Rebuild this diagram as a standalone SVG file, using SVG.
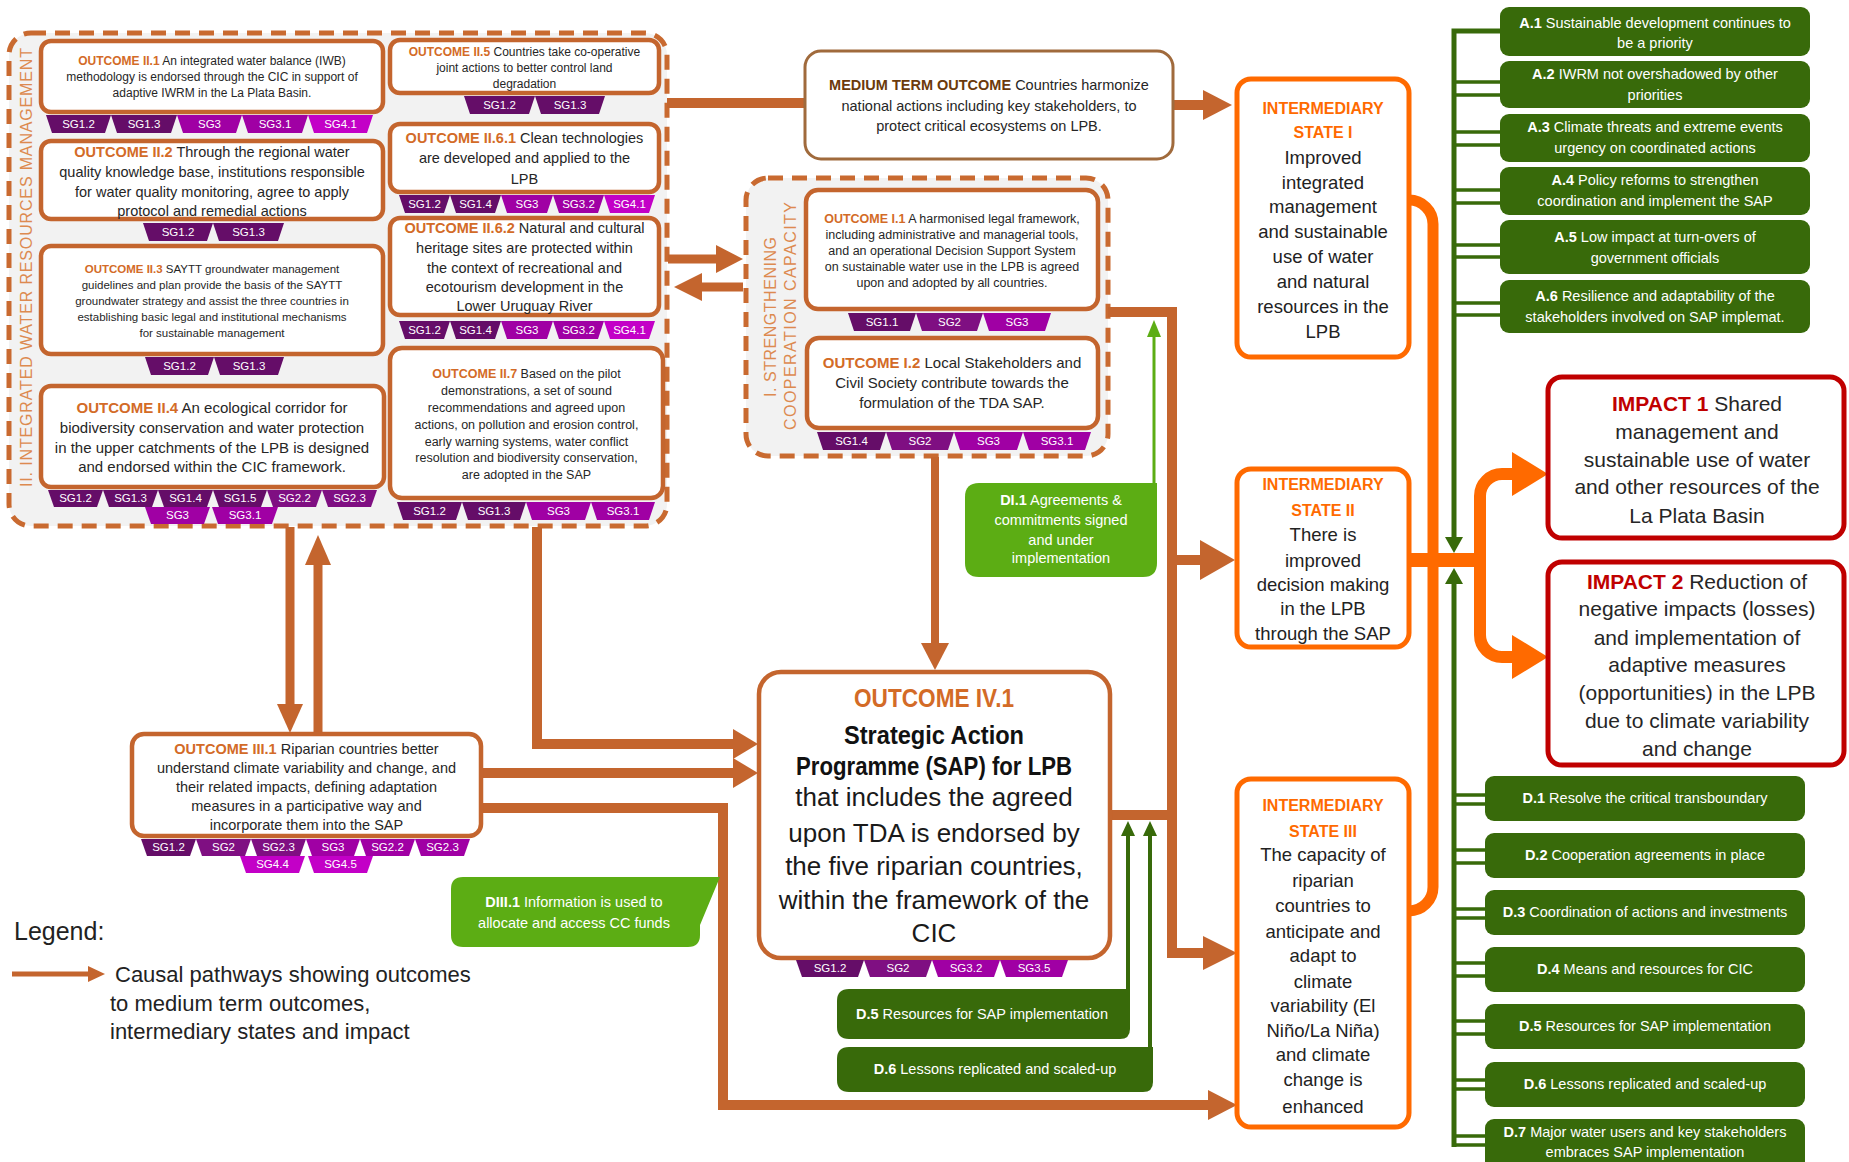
<svg xmlns="http://www.w3.org/2000/svg" width="1849" height="1162" viewBox="0 0 1849 1162">
<style>
  text { font-family: "Liberation Sans", Arial, sans-serif; }
  .t { fill: #262626; text-anchor: middle; }
  .lbl { fill: #d36b27; font-weight: bold; }
  .box { fill: #fff; stroke: #c4652e; stroke-width: 4.5; }
  .cont { fill: #f2f2f2; stroke: #c96a30; stroke-width: 5; stroke-dasharray: 15 9; }
  .vlab { fill: #dd8a50; font-size: 16px; text-anchor: middle; }
  .tag { font-size: 11.5px; fill: #fff; text-anchor: middle; }
  .c1 { fill: #650d68; } .c2 { fill: #7f0f82; } .c3 { fill: #a000a4; } .c4 { fill: #c300c7; }
  .ln { fill: none; stroke: #c4652e; stroke-width: 10; stroke-linejoin: miter; }
  .ah { fill: #c4652e; }
  .is { fill: #fff; stroke: #ff6a00; stroke-width: 5; }
  .ist { fill: #ff6a00; font-weight: bold; font-size: 16px; text-anchor: middle; }
  .isb { fill: #222; font-size: 18.5px; text-anchor: middle; }
  .ol { fill: none; stroke: #ff6a00; }
  .oh { fill: #ff6a00; }
  .imp { fill: #fff; stroke: #c00000; stroke-width: 5; }
  .impl { fill: #c00000; font-weight: bold; }
  .gbox { fill: #386a0a; }
  .lgbox { fill: #5cad14; }
  .gt { fill: #fff; font-size: 14.5px; text-anchor: middle; }
  .gl { fill: none; stroke: #386a0a; stroke-width: 3.5; }
  .gh { fill: #386a0a; }
  .b { font-weight: bold; }
</style>

<!-- Programme component containers -->
<g id="component-II">
  <rect class="cont" x="9" y="33" width="658" height="493" rx="22"/>
  <text class="vlab" transform="translate(32,267.5) rotate(-90)" textLength="439" lengthAdjust="spacing">II. INTEGRATED WATER RESOURCES MANAGEMENT</text>
</g>
<g id="component-I">
  <rect class="cont" x="746" y="178" width="362" height="278" rx="22"/>
  <text class="vlab" transform="translate(776,317) rotate(-90)" textLength="160" lengthAdjust="spacing">I. STRENGTHENING</text>
  <text class="vlab" transform="translate(796,316) rotate(-90)" textLength="228" lengthAdjust="spacing">COOPERATION CAPACITY</text>
</g>

<!-- Causal pathways -->
<g id="connectors">
  <path class="ln" d="M667,103 H806"/>
  <path class="ln" d="M1172,105 H1205"/>
  <polygon class="ah" points="1203,90 1232,105 1203,120"/>
  <path class="ln" d="M668,259 H718" style="stroke-width:9"/>
  <polygon class="ah" points="716,245 743,259 716,273"/>
  <path class="ln" d="M743,287 H700" style="stroke-width:9"/>
  <polygon class="ah" points="702,273 674,287 702,301"/>
  <path class="ln" d="M290,527 V706" style="stroke-width:9"/>
  <polygon class="ah" points="277,704 290,733 303,704"/>
  <path class="ln" d="M318,734 V563" style="stroke-width:9"/>
  <polygon class="ah" points="305,565 318,535 331,565"/>
  <path class="ln" d="M537,527 V744 H735"/>
  <polygon class="ah" points="733,729 758,744 733,759"/>
  <path class="ln" d="M481,773 H735"/>
  <polygon class="ah" points="733,758 758,773 733,788"/>
  <path class="ln" d="M481,808 H723 V1105 H1210"/>
  <polygon class="ah" points="1208,1090 1237,1105 1208,1120"/>
  <path class="ln" d="M935,457 V645" style="stroke-width:8"/>
  <polygon class="ah" points="921,643 935,670 949,643"/>
  <path class="ln" d="M1108,312 H1172 V953 H1205"/>
  <polygon class="ah" points="1203,936 1237,953 1203,970"/>
  <path class="ln" d="M1172,560 H1202"/>
  <polygon class="ah" points="1200,540 1235,560 1200,580"/>
  <path class="ln" d="M1110,815 H1172"/>

  <!-- drivers feeding the SAP outcome -->
  <path d="M1154,483 V335" fill="none" stroke="#5cad14" stroke-width="3"/>
  <polygon fill="#5cad14" points="1147,337 1154,320 1161,337"/>
  <path class="gl" d="M1128,990 V834" style="stroke-width:4"/>
  <polygon class="gh" points="1121,836 1128,821 1135,836"/>
  <path class="gl" d="M1150,1047 V834" style="stroke-width:4"/>
  <polygon class="gh" points="1143,836 1150,821 1157,836"/>

  <!-- assumptions and drivers trunks -->
  <path class="gl" d="M1500,31 H1454 V540" style="stroke-width:5"/>
  <polygon class="gh" points="1445,537 1454,553 1463,537"/>
  <path class="gl" d="M1454,82 H1500 M1454,95 H1500 M1454,132 H1500 M1454,145 H1500 M1454,190 H1500 M1454,203 H1500 M1454,245 H1500 M1454,257 H1500 M1454,303 H1500 M1454,315 H1500"/>
  <path class="gl" d="M1454,1147 V584" style="stroke-width:5"/>
  <polygon class="gh" points="1445,584 1454,568 1463,584"/>
  <path class="gl" d="M1454,795 H1485 M1454,804 H1485 M1454,850 H1485 M1454,863 H1485 M1454,909 H1485 M1454,918 H1485 M1454,963 H1485 M1454,976 H1485 M1454,1021 H1485 M1454,1034 H1485 M1454,1080 H1485 M1454,1089 H1485 M1454,1136 H1485 M1454,1145 H1485"/>

  <!-- intermediary states to impacts -->
  <path class="ol" stroke-width="11" d="M1407,200 H1409 A24,24 0 0 1 1433,224 V887 A24,24 0 0 1 1409,911 H1407"/>
  <path class="ol" stroke-width="14" d="M1409,560 H1481"/>
  <path class="ol" stroke-width="12" d="M1480,566 V496 A22,22 0 0 1 1502,474 H1515"/>
  <polygon class="oh" points="1512,452 1548,474 1512,496"/>
  <path class="ol" stroke-width="12" d="M1480,554 V635 A22,22 0 0 0 1502,657 H1515"/>
  <polygon class="oh" points="1512,635 1548,657 1512,679"/>
</g>

<!-- Component II outcomes -->
<g id="outcome-II-1">
  <rect class="box" x="41" y="41" width="342" height="71" rx="10"/>
  <text class="t" font-size="12" x="212" y="65"><tspan class="lbl">OUTCOME II.1</tspan> An integrated water balance (IWB)</text>
  <text class="t" font-size="12" x="212" y="81">methodology is endorsed through the CIC in support of</text>
  <text class="t" font-size="12" x="212" y="97">adaptive IWRM in the La Plata Basin.</text>
  <polygon class="c1" points="46,115 111,115 105,133 52,133"/><text class="tag" x="78.5" y="128">SG1.2</text>
  <polygon class="c1" points="111,115 177,115 171,133 117,133"/><text class="tag" x="144" y="128">SG1.3</text>
  <polygon class="c3" points="177,115 242,115 236,133 183,133"/><text class="tag" x="209.5" y="128">SG3</text>
  <polygon class="c3" points="242,115 308,115 302,133 248,133"/><text class="tag" x="275" y="128">SG3.1</text>
  <polygon class="c4" points="308,115 373,115 367,133 314,133"/><text class="tag" x="340.5" y="128">SG4.1</text>
</g>
<g id="outcome-II-2">
  <rect class="box" x="41" y="141" width="342" height="78" rx="10"/>
  <text class="t" font-size="14.5" x="212" y="157"><tspan class="lbl">OUTCOME II.2</tspan> Through the regional water</text>
  <text class="t" font-size="14.5" x="212" y="177">quality knowledge base, institutions responsible</text>
  <text class="t" font-size="14.5" x="212" y="197">for water quality monitoring, agree to apply</text>
  <text class="t" font-size="14.5" x="212" y="216">protocol and remedial actions</text>
  <polygon class="c1" points="143,223 213,223 207,241 149,241"/><text class="tag" x="178" y="236">SG1.2</text>
  <polygon class="c1" points="213,223 284,223 278,241 219,241"/><text class="tag" x="248.5" y="236">SG1.3</text>
</g>
<g id="outcome-II-3">
  <rect class="box" x="41" y="246" width="342" height="108" rx="10"/>
  <text class="t" font-size="11.5" x="212" y="273"><tspan class="lbl">OUTCOME II.3</tspan> SAYTT groundwater management</text>
  <text class="t" font-size="11.5" x="212" y="289">guidelines and plan provide the basis of the SAYTT</text>
  <text class="t" font-size="11.5" x="212" y="305">groundwater strategy and assist the three countries in</text>
  <text class="t" font-size="11.5" x="212" y="321">establishing basic legal and institutional mechanisms</text>
  <text class="t" font-size="11.5" x="212" y="337">for sustainable management</text>
  <polygon class="c1" points="145,357 214,357 208,375 151,375"/><text class="tag" x="179.5" y="370">SG1.2</text>
  <polygon class="c1" points="214,357 284,357 278,375 220,375"/><text class="tag" x="249" y="370">SG1.3</text>
</g>
<g id="outcome-II-4">
  <rect class="box" x="41" y="386" width="343" height="101" rx="10"/>
  <text class="t" font-size="15" x="212" y="413"><tspan class="lbl">OUTCOME II.4</tspan> An ecological corridor for</text>
  <text class="t" font-size="15" x="212" y="433">biodiversity conservation and water protection</text>
  <text class="t" font-size="15" x="212" y="453">in the upper catchments of the LPB is designed</text>
  <text class="t" font-size="15" x="212" y="472">and endorsed within the CIC framework.</text>
  <polygon class="c1" points="48,490 103,490 97,507 54,507"/><text class="tag" x="75.5" y="502">SG1.2</text>
  <polygon class="c1" points="103,490 158,490 152,507 109,507"/><text class="tag" x="130.5" y="502">SG1.3</text>
  <polygon class="c1" points="158,490 213,490 207,507 164,507"/><text class="tag" x="185.5" y="502">SG1.4</text>
  <polygon class="c1" points="213,490 267,490 261,507 219,507"/><text class="tag" x="240" y="502">SG1.5</text>
  <polygon class="c2" points="267,490 322,490 316,507 273,507"/><text class="tag" x="294.5" y="502">SG2.2</text>
  <polygon class="c2" points="322,490 377,490 371,507 328,507"/><text class="tag" x="349.5" y="502">SG2.3</text>
  <polygon class="c3" points="145,507 210,507 204,524 151,524"/><text class="tag" x="177.5" y="519">SG3</text>
  <polygon class="c3" points="212,507 278,507 272,524 218,524"/><text class="tag" x="245" y="519">SG3.1</text>
</g>
<g id="outcome-II-5">
  <rect class="box" x="390" y="40" width="269" height="53" rx="10"/>
  <text class="t" font-size="12" x="524.5" y="56"><tspan class="lbl">OUTCOME II.5</tspan> Countries take co-operative</text>
  <text class="t" font-size="12" x="524.5" y="72">joint actions to better control land</text>
  <text class="t" font-size="12" x="524.5" y="88">degradation</text>
  <polygon class="c1" points="464,96 535,96 529,114 470,114"/><text class="tag" x="499.5" y="109">SG1.2</text>
  <polygon class="c1" points="535,96 605,96 599,114 541,114"/><text class="tag" x="570" y="109">SG1.3</text>
</g>
<g id="outcome-II-6-1">
  <rect class="box" x="390" y="124" width="269" height="68" rx="10"/>
  <text class="t" font-size="14.5" x="524.5" y="143"><tspan class="lbl">OUTCOME II.6.1</tspan> Clean technologies</text>
  <text class="t" font-size="14.5" x="524.5" y="163">are developed and applied to the</text>
  <text class="t" font-size="14.5" x="524.5" y="184">LPB</text>
  <polygon class="c1" points="399,195 450,195 444,213 405,213"/><text class="tag" x="424.5" y="208">SG1.2</text>
  <polygon class="c1" points="450,195 501,195 495,213 456,213"/><text class="tag" x="475.5" y="208">SG1.4</text>
  <polygon class="c3" points="501,195 553,195 547,213 507,213"/><text class="tag" x="527" y="208">SG3</text>
  <polygon class="c3" points="553,195 604,195 598,213 559,213"/><text class="tag" x="578.5" y="208">SG3.2</text>
  <polygon class="c4" points="604,195 655,195 649,213 610,213"/><text class="tag" x="629.5" y="208">SG4.1</text>
</g>
<g id="outcome-II-6-2">
  <rect class="box" x="390" y="218" width="269" height="97" rx="10"/>
  <text class="t" font-size="14.5" x="524.5" y="233"><tspan class="lbl">OUTCOME II.6.2</tspan> Natural and cultural</text>
  <text class="t" font-size="14.5" x="524.5" y="253">heritage sites are protected within</text>
  <text class="t" font-size="14.5" x="524.5" y="273">the context of recreational and</text>
  <text class="t" font-size="14.5" x="524.5" y="292">ecotourism development in the</text>
  <text class="t" font-size="14.5" x="524.5" y="311">Lower Uruguay River</text>
  <polygon class="c1" points="399,321 450,321 444,339 405,339"/><text class="tag" x="424.5" y="334">SG1.2</text>
  <polygon class="c1" points="450,321 501,321 495,339 456,339"/><text class="tag" x="475.5" y="334">SG1.4</text>
  <polygon class="c3" points="501,321 553,321 547,339 507,339"/><text class="tag" x="527" y="334">SG3</text>
  <polygon class="c3" points="553,321 604,321 598,339 559,339"/><text class="tag" x="578.5" y="334">SG3.2</text>
  <polygon class="c4" points="604,321 655,321 649,339 610,339"/><text class="tag" x="629.5" y="334">SG4.1</text>
</g>
<g id="outcome-II-7">
  <rect class="box" x="390" y="348" width="273" height="150" rx="12"/>
  <text class="t" font-size="12.5" x="526.5" y="378"><tspan class="lbl">OUTCOME II.7</tspan> Based on the pilot</text>
  <text class="t" font-size="12.5" x="526.5" y="395">demonstrations, a set of sound</text>
  <text class="t" font-size="12.5" x="526.5" y="412">recommendations and agreed upon</text>
  <text class="t" font-size="12.5" x="526.5" y="429">actions, on pollution and erosion control,</text>
  <text class="t" font-size="12.5" x="526.5" y="446">early warning systems, water conflict</text>
  <text class="t" font-size="12.5" x="526.5" y="462">resolution and biodiversity conservation,</text>
  <text class="t" font-size="12.5" x="526.5" y="479">are adopted in the SAP</text>
  <polygon class="c1" points="397,502 462,502 456,520 403,520"/><text class="tag" x="429.5" y="515">SG1.2</text>
  <polygon class="c1" points="462,502 526,502 520,520 468,520"/><text class="tag" x="494" y="515">SG1.3</text>
  <polygon class="c3" points="526,502 591,502 585,520 532,520"/><text class="tag" x="558.5" y="515">SG3</text>
  <polygon class="c3" points="591,502 655,502 649,520 597,520"/><text class="tag" x="623" y="515">SG3.1</text>
</g>

<!-- Medium term outcome -->
<g id="medium-term-outcome">
  <rect x="805" y="51" width="368" height="108" rx="16" fill="#fff" stroke="#a06a3c" stroke-width="3"/>
  <text class="t" font-size="14.5" x="989" y="90"><tspan font-weight="bold" fill="#6b3a0b">MEDIUM TERM OUTCOME</tspan> Countries harmonize</text>
  <text class="t" font-size="14.5" x="989" y="111">national actions including key stakeholders, to</text>
  <text class="t" font-size="14.5" x="989" y="131">protect critical ecosystems on LPB.</text>
</g>

<!-- Component I outcomes -->
<g id="outcome-I-1">
  <rect class="box" x="806" y="190" width="292" height="119" rx="12"/>
  <text class="t" font-size="12.5" x="952" y="223"><tspan class="lbl">OUTCOME I.1</tspan> A harmonised legal framework,</text>
  <text class="t" font-size="12.5" x="952" y="239">including administrative and managerial tools,</text>
  <text class="t" font-size="12.5" x="952" y="255">and an operational Decision Support System</text>
  <text class="t" font-size="12.5" x="952" y="271">on sustainable water use in the LPB is agreed</text>
  <text class="t" font-size="12.5" x="952" y="287">upon and adopted by all countries.</text>
  <polygon class="c1" points="848,313 916,313 910,331 854,331"/><text class="tag" x="882" y="326">SG1.1</text>
  <polygon class="c2" points="916,313 983,313 977,331 922,331"/><text class="tag" x="949.5" y="326">SG2</text>
  <polygon class="c3" points="983,313 1051,313 1045,331 989,331"/><text class="tag" x="1017" y="326">SG3</text>
</g>
<g id="outcome-I-2">
  <rect class="box" x="807" y="338" width="291" height="90" rx="12"/>
  <text class="t" font-size="15" x="952" y="368"><tspan class="lbl">OUTCOME I.2</tspan> Local Stakeholders and</text>
  <text class="t" font-size="15" x="952" y="388">Civil Society contribute towards the</text>
  <text class="t" font-size="15" x="952" y="408">formulation of the TDA SAP.</text>
  <polygon class="c1" points="817,432 886,432 880,450 823,450"/><text class="tag" x="851.5" y="445">SG1.4</text>
  <polygon class="c2" points="886,432 954,432 948,450 892,450"/><text class="tag" x="920" y="445">SG2</text>
  <polygon class="c3" points="954,432 1023,432 1017,450 960,450"/><text class="tag" x="988.5" y="445">SG3</text>
  <polygon class="c3" points="1023,432 1091,432 1085,450 1029,450"/><text class="tag" x="1057" y="445">SG3.1</text>
</g>

<!-- Component III outcome -->
<g id="outcome-III-1">
  <rect class="box" x="132" y="734" width="349" height="102" rx="12"/>
  <text class="t" font-size="14.5" x="306.5" y="754"><tspan class="lbl">OUTCOME III.1</tspan> Riparian countries better</text>
  <text class="t" font-size="14.5" x="306.5" y="773">understand climate variability and change, and</text>
  <text class="t" font-size="14.5" x="306.5" y="792">their related impacts, defining adaptation</text>
  <text class="t" font-size="14.5" x="306.5" y="811">measures in a participative way and</text>
  <text class="t" font-size="14.5" x="306.5" y="830">incorporate them into the SAP</text>
  <polygon class="c1" points="141,839 196,839 190,856 147,856"/><text class="tag" x="168.5" y="851">SG1.2</text>
  <polygon class="c2" points="196,839 251,839 245,856 202,856"/><text class="tag" x="223.5" y="851">SG2</text>
  <polygon class="c2" points="251,839 306,839 300,856 257,856"/><text class="tag" x="278.5" y="851">SG2.3</text>
  <polygon class="c3" points="306,839 360,839 354,856 312,856"/><text class="tag" x="333" y="851">SG3</text>
  <polygon class="c3" points="360,839 415,839 409,856 366,856"/><text class="tag" x="387.5" y="851">SG2.2</text>
  <polygon class="c3" points="415,839 470,839 464,856 421,856"/><text class="tag" x="442.5" y="851">SG2.3</text>
  <polygon class="c4" points="240,856 305,856 299,873 246,873"/><text class="tag" x="272.5" y="868">SG4.4</text>
  <polygon class="c4" points="308,856 373,856 367,873 314,873"/><text class="tag" x="340.5" y="868">SG4.5</text>
</g>

<!-- Component IV outcome -->
<g id="outcome-IV-1">
  <rect class="box" x="759" y="672" width="351" height="286" rx="22"/>
  <text class="t" x="934" y="707" font-size="25" font-weight="bold" style="fill:#d36b27" textLength="160" lengthAdjust="spacingAndGlyphs">OUTCOME IV.1</text>
  <text class="t" x="934" y="744" font-size="26" font-weight="bold" style="fill:#111" textLength="180" lengthAdjust="spacingAndGlyphs">Strategic Action</text>
  <text class="t" x="934" y="775" font-size="26" font-weight="bold" style="fill:#111" textLength="276" lengthAdjust="spacingAndGlyphs">Programme (SAP) for LPB</text>
  <text class="t" x="934" y="806" font-size="26" style="fill:#1a1a1a">that includes the agreed</text>
  <text class="t" x="934" y="842" font-size="26" style="fill:#1a1a1a">upon TDA is endorsed by</text>
  <text class="t" x="934" y="875" font-size="26" style="fill:#1a1a1a">the five riparian countries,</text>
  <text class="t" x="934" y="909" font-size="26" style="fill:#1a1a1a">within the framework of the</text>
  <text class="t" x="934" y="942" font-size="26" style="fill:#1a1a1a">CIC</text>
  <polygon class="c1" points="796,960 864,960 858,977 802,977"/><text class="tag" x="830" y="972">SG1.2</text>
  <polygon class="c2" points="864,960 932,960 926,977 870,977"/><text class="tag" x="898" y="972">SG2</text>
  <polygon class="c3" points="932,960 1000,960 994,977 938,977"/><text class="tag" x="966" y="972">SG3.2</text>
  <polygon class="c3" points="1000,960 1068,960 1062,977 1006,977"/><text class="tag" x="1034" y="972">SG3.5</text>
</g>

<!-- Drivers near the outcomes -->
<g id="driver-DI-1">
  <path class="lgbox" d="M979,483 H1157 V563 Q1157,577 1143,577 H979 Q965,577 965,563 V497 Q965,483 979,483 Z"/>
  <text class="gt" font-size="14" x="1061" y="505"><tspan class="b">DI.1</tspan> Agreements &amp;</text>
  <text class="gt" font-size="14" x="1061" y="525">commitments signed</text>
  <text class="gt" font-size="14" x="1061" y="545">and under</text>
  <text class="gt" font-size="14" x="1061" y="563">implementation</text>
</g>
<g id="driver-DIII-1">
  <path class="lgbox" d="M463,877 H720 L700,925 V935 Q700,947 688,947 H463 Q451,947 451,935 V889 Q451,877 463,877 Z"/>
  <text class="gt" font-size="14" x="574" y="907"><tspan class="b">DIII.1</tspan> Information is used to</text>
  <text class="gt" font-size="14" x="574" y="928">allocate and access CC funds</text>
</g>
<g id="driver-D5-sap">
  <path class="gbox" d="M849,989 H1130 V1029 Q1130,1039 1120,1039 H849 Q837,1039 837,1027 V1001 Q837,989 849,989 Z"/>
  <text class="gt" x="982" y="1019"><tspan class="b">D.5</tspan> Resources for SAP implementation</text>
</g>
<g id="driver-D6-sap">
  <path class="gbox" d="M849,1047 H1153 V1082 Q1153,1092 1143,1092 H849 Q837,1092 837,1080 V1059 Q837,1047 849,1047 Z"/>
  <text class="gt" x="995" y="1074"><tspan class="b">D.6</tspan> Lessons replicated and scaled-up</text>
</g>

<!-- Intermediary states -->
<g id="intermediary-state-I">
  <rect class="is" x="1237" y="79" width="172" height="278" rx="14"/>
  <text class="ist" x="1323" y="114">INTERMEDIARY</text>
  <text class="ist" x="1323" y="138">STATE I</text>
  <text class="isb" x="1323" y="163.5">Improved</text>
  <text class="isb" x="1323" y="188.5">integrated</text>
  <text class="isb" x="1323" y="212.5">management</text>
  <text class="isb" x="1323" y="237.5">and sustainable</text>
  <text class="isb" x="1323" y="262.5">use of water</text>
  <text class="isb" x="1323" y="287.5">and natural</text>
  <text class="isb" x="1323" y="312.5">resources in the</text>
  <text class="isb" x="1323" y="337.5">LPB</text>
</g>
<g id="intermediary-state-II">
  <rect class="is" x="1237" y="469" width="172" height="178" rx="14"/>
  <text class="ist" x="1323" y="490">INTERMEDIARY</text>
  <text class="ist" x="1323" y="516">STATE II</text>
  <text class="isb" x="1323" y="540.5">There is</text>
  <text class="isb" x="1323" y="566.5">improved</text>
  <text class="isb" x="1323" y="590.5">decision making</text>
  <text class="isb" x="1323" y="614.5">in the LPB</text>
  <text class="isb" x="1323" y="639.5">through the SAP</text>
</g>
<g id="intermediary-state-III">
  <rect class="is" x="1237" y="779" width="172" height="348" rx="14"/>
  <text class="ist" x="1323" y="811">INTERMEDIARY</text>
  <text class="ist" x="1323" y="837">STATE III</text>
  <text class="isb" x="1323" y="860.5">The capacity of</text>
  <text class="isb" x="1323" y="886.5">riparian</text>
  <text class="isb" x="1323" y="911.5">countries to</text>
  <text class="isb" x="1323" y="937.5">anticipate and</text>
  <text class="isb" x="1323" y="961.5">adapt to</text>
  <text class="isb" x="1323" y="987.5">climate</text>
  <text class="isb" x="1323" y="1011.5">variability (El</text>
  <text class="isb" x="1323" y="1036.5">Niño/La Niña)</text>
  <text class="isb" x="1323" y="1060.5">and climate</text>
  <text class="isb" x="1323" y="1085.5">change is</text>
  <text class="isb" x="1323" y="1112.5">enhanced</text>
</g>

<!-- Impacts -->
<g id="impact-1">
  <rect class="imp" x="1548" y="377" width="296" height="161" rx="14"/>
  <text class="t" font-size="21" x="1697" y="411"><tspan class="impl">IMPACT 1</tspan> Shared</text>
  <text class="t" font-size="21" x="1697" y="439">management and</text>
  <text class="t" font-size="21" x="1697" y="467">sustainable use of water</text>
  <text class="t" font-size="21" x="1697" y="494">and other resources of the</text>
  <text class="t" font-size="21" x="1697" y="523">La Plata Basin</text>
</g>
<g id="impact-2">
  <rect class="imp" x="1548" y="562" width="296" height="203" rx="14"/>
  <text class="t" font-size="21" x="1697" y="589"><tspan class="impl">IMPACT 2</tspan> Reduction of</text>
  <text class="t" font-size="21" x="1697" y="616">negative impacts (losses)</text>
  <text class="t" font-size="21" x="1697" y="645">and implementation of</text>
  <text class="t" font-size="21" x="1697" y="672">adaptive measures</text>
  <text class="t" font-size="21" x="1697" y="700">(opportunities) in the LPB</text>
  <text class="t" font-size="21" x="1697" y="728">due to climate variability</text>
  <text class="t" font-size="21" x="1697" y="756">and change</text>
</g>

<!-- Assumptions -->
<g id="assumption-A1"><rect class="gbox" x="1500" y="7" width="310" height="49" rx="9"/>
  <text class="gt" x="1655" y="28"><tspan class="b">A.1</tspan> Sustainable development continues to</text>
  <text class="gt" x="1655" y="48">be a priority</text></g>
<g id="assumption-A2"><rect class="gbox" x="1500" y="61" width="310" height="47" rx="9"/>
  <text class="gt" x="1655" y="79"><tspan class="b">A.2</tspan> IWRM not overshadowed by other</text>
  <text class="gt" x="1655" y="100">priorities</text></g>
<g id="assumption-A3"><rect class="gbox" x="1500" y="114" width="310" height="48" rx="9"/>
  <text class="gt" x="1655" y="132"><tspan class="b">A.3</tspan> Climate threats and extreme events</text>
  <text class="gt" x="1655" y="153">urgency on coordinated actions</text></g>
<g id="assumption-A4"><rect class="gbox" x="1500" y="167" width="310" height="48" rx="9"/>
  <text class="gt" x="1655" y="185"><tspan class="b">A.4</tspan> Policy reforms to strengthen</text>
  <text class="gt" x="1655" y="206">coordination and implement the SAP</text></g>
<g id="assumption-A5"><rect class="gbox" x="1500" y="220" width="310" height="54" rx="9"/>
  <text class="gt" x="1655" y="242"><tspan class="b">A.5</tspan> Low impact at turn-overs of</text>
  <text class="gt" x="1655" y="263">government officials</text></g>
<g id="assumption-A6"><rect class="gbox" x="1500" y="280" width="310" height="53" rx="9"/>
  <text class="gt" x="1655" y="301"><tspan class="b">A.6</tspan>  Resilience and adaptability of the</text>
  <text class="gt" x="1655" y="322">stakeholders involved on SAP implemat.</text></g>

<!-- Drivers -->
<g id="driver-D1"><rect class="gbox" x="1485" y="776" width="320" height="45" rx="9"/>
  <text class="gt" x="1645" y="803"><tspan class="b">D.1</tspan> Resolve the critical transboundary</text></g>
<g id="driver-D2"><rect class="gbox" x="1485" y="833" width="320" height="45" rx="9"/>
  <text class="gt" x="1645" y="860"><tspan class="b">D.2</tspan> Cooperation agreements in place</text></g>
<g id="driver-D3"><rect class="gbox" x="1485" y="890" width="320" height="45" rx="9"/>
  <text class="gt" x="1645" y="917"><tspan class="b">D.3</tspan> Coordination of actions and investments</text></g>
<g id="driver-D4"><rect class="gbox" x="1485" y="947" width="320" height="45" rx="9"/>
  <text class="gt" x="1645" y="974"><tspan class="b">D.4</tspan>  Means and resources for CIC</text></g>
<g id="driver-D5"><rect class="gbox" x="1485" y="1004" width="320" height="45" rx="9"/>
  <text class="gt" x="1645" y="1031"><tspan class="b">D.5</tspan> Resources for SAP implementation</text></g>
<g id="driver-D6"><rect class="gbox" x="1485" y="1062" width="320" height="45" rx="9"/>
  <text class="gt" x="1645" y="1089"><tspan class="b">D.6</tspan> Lessons replicated and scaled-up</text></g>
<g id="driver-D7"><rect class="gbox" x="1485" y="1119" width="320" height="55" rx="9"/>
  <text class="gt" x="1645" y="1137"><tspan class="b">D.7</tspan> Major water users and key stakeholders</text>
  <text class="gt" x="1645" y="1157">embraces SAP implementation</text></g>

<!-- Legend -->
<g id="legend">
  <text x="14" y="940" font-size="25" fill="#222">Legend:</text>
  <path d="M12,974 H92" stroke="#c4652e" stroke-width="5"/>
  <polygon class="ah" points="88,966 105,974 88,982"/>
  <text x="115" y="982" font-size="22" fill="#222">Causal pathways showing outcomes</text>
  <text x="110" y="1011" font-size="22" fill="#222">to medium term outcomes,</text>
  <text x="110" y="1039" font-size="22" fill="#222">intermediary states and impact</text>
</g>
</svg>
